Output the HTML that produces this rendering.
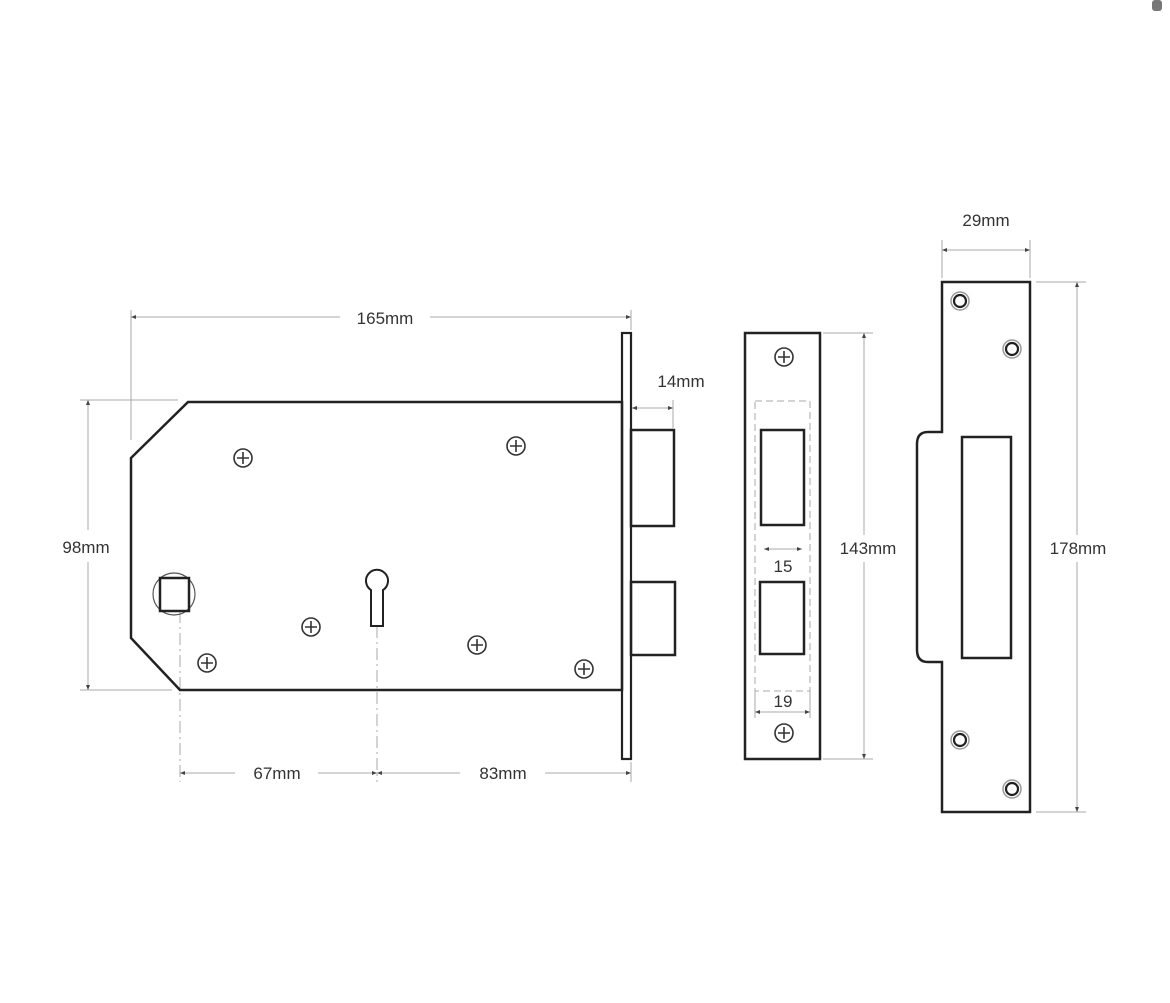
<!DOCTYPE html>
<html><head><meta charset="utf-8"><style>
html,body{margin:0;padding:0;background:#fff;width:1170px;height:1003px;overflow:hidden}
svg{display:block}
text{font-family:"Liberation Sans",sans-serif;font-size:17px;fill:#333}
</style></head><body>
<svg width="1170" height="1003" viewBox="0 0 1170 1003" xmlns="http://www.w3.org/2000/svg">
<defs>
<marker id="a" viewBox="0 0 10 10" refX="10" refY="5" markerWidth="5" markerHeight="5" orient="auto-start-reverse"><path d="M0,1 L10,5 L0,9z" fill="#444"/></marker>
<g id="s"><circle r="9" fill="none" stroke="#333" stroke-width="1.6"/><path d="M-6,0H6M0,-6V6" stroke="#333" stroke-width="1.6"/></g>
<g id="h"><circle r="9" fill="none" stroke="#999" stroke-width="1.5"/><circle r="6" fill="none" stroke="#222" stroke-width="2.2"/></g>
</defs>
<rect x="1152" y="0" width="10" height="11" rx="3" fill="#777"/>
<g fill="none" stroke="#aaa" stroke-width="1">
<!-- 165 -->
<line x1="131" y1="310" x2="131" y2="440"/>
<line x1="631" y1="310" x2="631" y2="330"/>
<line x1="131" y1="317" x2="340" y2="317" marker-start="url(#a)"/>
<line x1="430" y1="317" x2="631" y2="317" marker-end="url(#a)"/>
<!-- 98 -->
<line x1="80" y1="400" x2="178" y2="400"/>
<line x1="80" y1="690" x2="172" y2="690"/>
<line x1="88" y1="400" x2="88" y2="530" marker-start="url(#a)"/>
<line x1="88" y1="562" x2="88" y2="690" marker-end="url(#a)"/>
<!-- 14 -->
<line x1="673" y1="400" x2="673" y2="428"/>
<line x1="632" y1="408" x2="673" y2="408" marker-start="url(#a)" marker-end="url(#a)"/>
<!-- 67 / 83 -->
<line x1="180" y1="611" x2="180" y2="782" stroke-dasharray="12,4,2,4"/>
<line x1="377" y1="626" x2="377" y2="782" stroke-dasharray="12,4,2,4"/>
<line x1="631" y1="762" x2="631" y2="782"/>
<line x1="180" y1="773" x2="235" y2="773" marker-start="url(#a)"/>
<line x1="318" y1="773" x2="377" y2="773" marker-end="url(#a)"/>
<line x1="377" y1="773" x2="460" y2="773" marker-start="url(#a)"/>
<line x1="545" y1="773" x2="631" y2="773" marker-end="url(#a)"/>
<!-- keep -->
<rect x="755" y="401" width="55" height="290" stroke-dasharray="7,4"/>
<line x1="764" y1="549" x2="802" y2="549" marker-start="url(#a)" marker-end="url(#a)"/>
<line x1="755" y1="712" x2="810" y2="712" marker-start="url(#a)" marker-end="url(#a)"/>
<line x1="755" y1="691" x2="755" y2="718"/><line x1="810" y1="691" x2="810" y2="718"/>
<line x1="823" y1="333" x2="873" y2="333"/>
<line x1="823" y1="759" x2="873" y2="759"/>
<line x1="864" y1="333" x2="864" y2="535" marker-start="url(#a)"/>
<line x1="864" y1="562" x2="864" y2="759" marker-end="url(#a)"/>
<!-- strike -->
<line x1="942" y1="240" x2="942" y2="278"/>
<line x1="1030" y1="240" x2="1030" y2="278"/>
<line x1="942" y1="250" x2="1030" y2="250" marker-start="url(#a)" marker-end="url(#a)"/>
<line x1="1036" y1="282" x2="1086" y2="282"/>
<line x1="1036" y1="812" x2="1086" y2="812"/>
<line x1="1077" y1="282" x2="1077" y2="535" marker-start="url(#a)"/>
<line x1="1077" y1="562" x2="1077" y2="812" marker-end="url(#a)"/>
</g>
<g fill="none" stroke="#222" stroke-width="2.5">
<polygon points="131,458 188,402 622,402 622,690 180,690 131,638"/>
<rect x="622" y="333" width="9" height="426" stroke-width="2.2"/>
<rect x="631" y="430" width="43" height="96"/>
<rect x="631" y="582" width="44" height="73"/>
<circle cx="174" cy="594" r="21" stroke="#555" stroke-width="1.2"/>
<rect x="160" y="578" width="29" height="33"/>
<path d="M371,626 V590 A11,11 0 1 1 383,590 V626 Z" stroke-width="2"/>
<rect x="745" y="333" width="75" height="426"/>
<rect x="761" y="430" width="43" height="95"/>
<rect x="760" y="582" width="44" height="72"/>
<path d="M942,282 H1030 V812 H942 V662 H928 Q917,662 917,650 V444 Q917,432 928,432 H942 Z"/>
<rect x="962" y="437" width="49" height="221"/>
</g>
<use href="#s" x="243" y="458"/><use href="#s" x="516" y="446"/><use href="#s" x="311" y="627"/>
<use href="#s" x="477" y="645"/><use href="#s" x="207" y="663"/><use href="#s" x="584" y="669"/>
<use href="#s" x="784" y="357"/><use href="#s" x="784" y="733"/>
<use href="#h" x="960" y="301"/><use href="#h" x="1012" y="349"/><use href="#h" x="960" y="740"/><use href="#h" x="1012" y="789"/>
<text x="385" y="324" text-anchor="middle">165mm</text>
<text x="86" y="553" text-anchor="middle">98mm</text>
<text x="681" y="387" text-anchor="middle">14mm</text>
<text x="277" y="779" text-anchor="middle">67mm</text>
<text x="503" y="779" text-anchor="middle">83mm</text>
<text x="783" y="572" text-anchor="middle">15</text>
<text x="783" y="707" text-anchor="middle">19</text>
<text x="868" y="554" text-anchor="middle">143mm</text>
<text x="986" y="226" text-anchor="middle">29mm</text>
<text x="1078" y="554" text-anchor="middle">178mm</text>
</svg>
</body></html>
